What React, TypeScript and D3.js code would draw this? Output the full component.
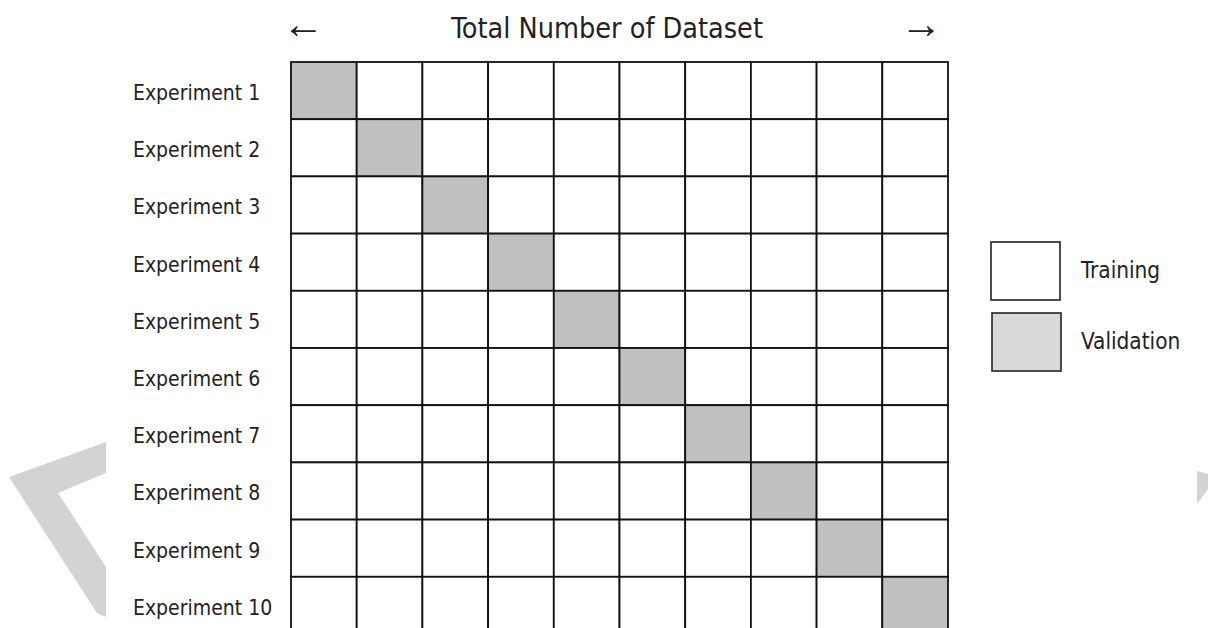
import React, { useEffect, useRef } from "react";
import * as d3 from "d3";

const experiments = ["Experiment 1", "Experiment 2", "Experiment 3", "Experiment 4", "Experiment 5",
  "Experiment 6", "Experiment 7", "Experiment 8", "Experiment 9", "Experiment 10"];
const folds = ["F1", "F2", "F3", "F4", "F5", "F6", "F7", "F8", "F9", "F10"];
// which fold is held out for validation in each experiment
const validationFold = ["F1", "F2", "F3", "F4", "F5", "F6", "F7", "F8", "F9", "F10"];
const legendItems = ["Training", "Validation"];
const title = "Total Number of Dataset";

const FONT = "'DejaVu Sans Condensed', 'Liberation Sans Narrow', 'DejaVu Sans', sans-serif";

export default function App() {
  const svgRef = useRef<SVGSVGElement>(null);

  useEffect(() => {
    const svg = d3.select(svgRef.current);
    svg.selectAll("*").remove();

    // watermark shapes
    svg.append("polygon")
      .attr("points", "9,477 106,442 106,473 58,493 106,567 106,617 97,613")
      .attr("fill", "#d3d3d3");
    svg.append("polygon")
      .attr("points", "1197,471 1208,474 1208,489 1197,504")
      .attr("fill", "#d3d3d3");

    const x = d3.scaleBand().domain(folds).range([291, 948]);
    const y = d3.scaleBand().domain(experiments).range([62, 634]);

    // title with arrows
    svg.append("text").attr("x", 607).attr("y", 38)
      .attr("text-anchor", "middle").style("font-family", FONT).style("font-size", "28.5px")
      .attr("fill", "#222").text(title);
    svg.append("text").attr("x", 303).attr("y", 38)
      .attr("text-anchor", "middle").style("font-family", "'Liberation Serif', serif").style("font-size", "42px")
      .attr("fill", "#222").text("\u2190");
    svg.append("text").attr("x", 921).attr("y", 38)
      .attr("text-anchor", "middle").style("font-family", "'Liberation Serif', serif").style("font-size", "42px")
      .attr("fill", "#222").text("\u2192");

    // grid cells
    experiments.forEach((exp, i) => {
      folds.forEach((f) => {
        svg.append("rect")
          .attr("x", x(f)!)
          .attr("y", y(exp)!)
          .attr("width", x.bandwidth())
          .attr("height", y.bandwidth())
          .attr("fill", validationFold[i] === f ? "#c0c0c0" : "#fff")
          .attr("stroke", "#111")
          .attr("stroke-width", 1.8);
      });
      svg.append("text")
        .attr("x", 133)
        .attr("y", y(exp)! + y.bandwidth() / 2 + 2)
        .attr("dy", "0.35em")
        .style("font-family", FONT)
        .style("font-size", "21px")
        .attr("fill", "#222")
        .text(exp);
    });

    // legend
    const ly = d3.scaleBand().domain(legendItems).range([242, 384]);
    legendItems.forEach((item, i) => {
      svg.append("rect")
        .attr("x", 991 + i)
        .attr("y", ly(item)!)
        .attr("width", 69)
        .attr("height", 58)
        .attr("fill", i === 0 ? "#fff" : "#d9d9d9")
        .attr("stroke", "#222")
        .attr("stroke-width", 1.6);
      svg.append("text")
        .attr("x", 1081)
        .attr("y", ly(item)! + 28)
        .attr("dy", "0.35em")
        .style("font-family", FONT)
        .style("font-size", "22.4px")
        .attr("fill", "#222")
        .text(item);
    });
  }, []);

  return (
    <svg ref={svgRef} width={1208} height={628}
      style={{ position: "absolute", left: 0, top: 0, background: "#fff" }} />
  );
}
